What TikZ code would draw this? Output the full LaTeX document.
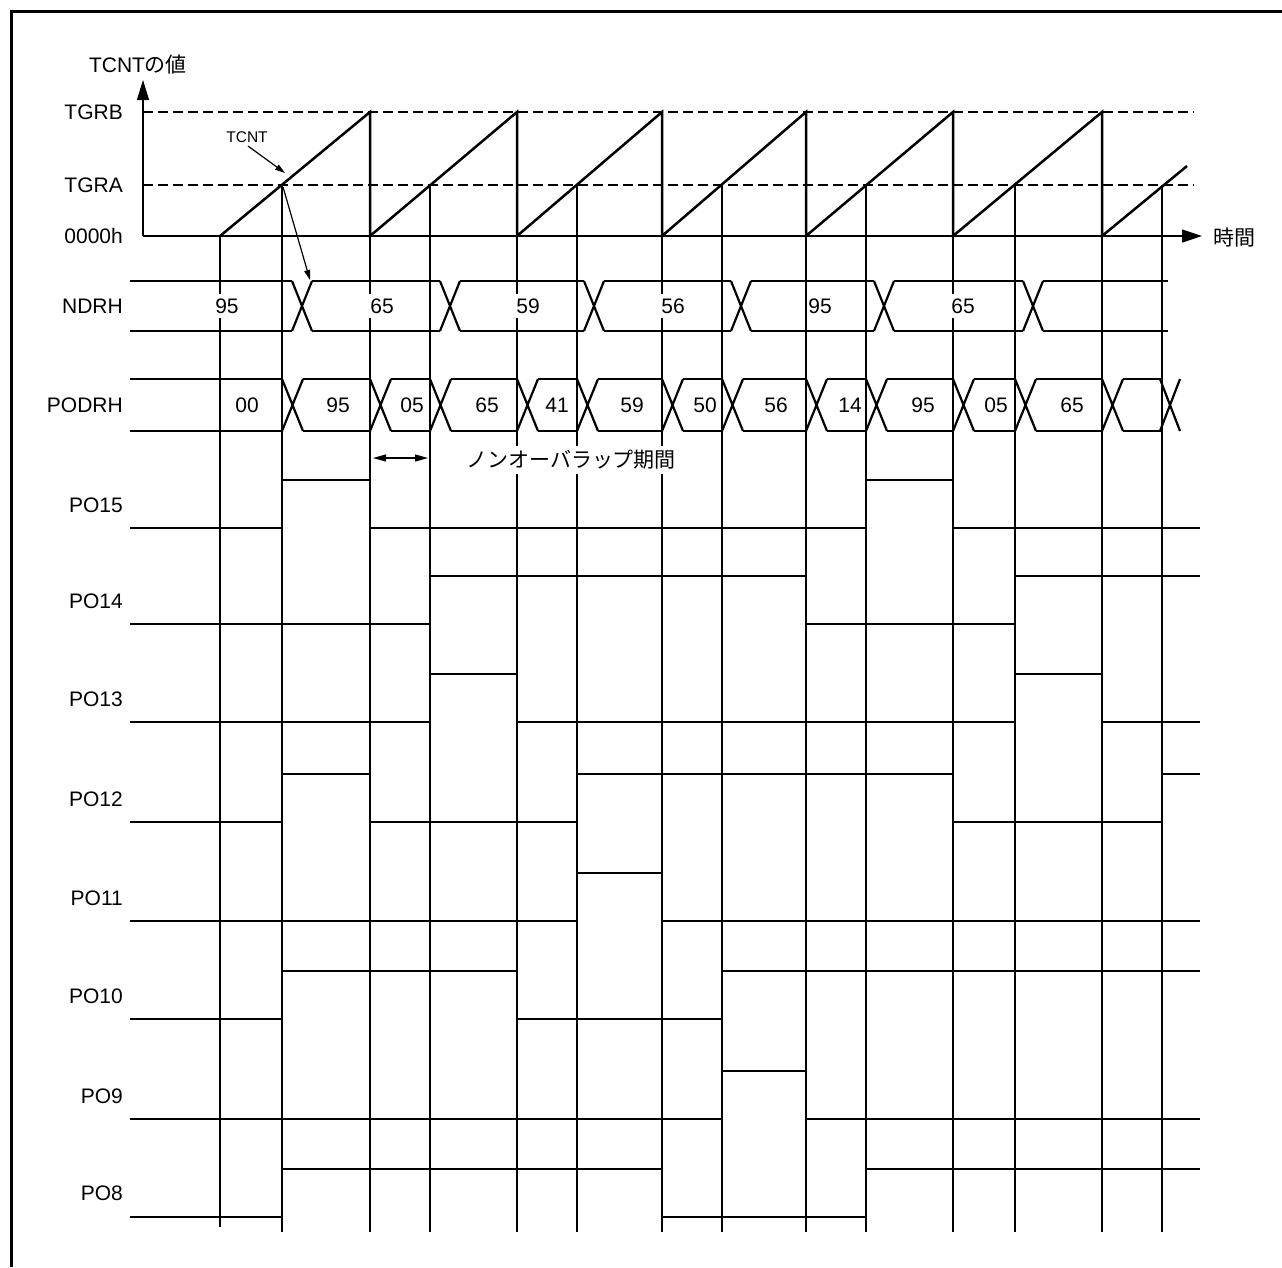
\documentclass[tikz,border=0pt]{standalone}
\usepackage{fontspec}
\setmainfont{Liberation Sans}
\newfontfamily\jp{Noto Sans CJK JP}
\usetikzlibrary{arrows.meta}
\tikzset{
  thinln/.style={line width=1.2pt},
  thickln/.style={line width=2.5pt},
  busln/.style={line width=2.2pt, line cap=butt},
  sig/.style={line width=2.5pt, line join=miter},
  dashln/.style={line width=2.5pt, dash pattern=on 10pt off 5pt},
  lbl/.style={anchor=east, inner sep=0pt},
  val/.style={fill=white, inner xsep=1pt, inner ysep=5pt},
  txt/.style={font=\fontsize{21}{24}\selectfont},
}
\begin{document}
\begin{tikzpicture}[x=1pt,y=-1pt, every node/.style={txt}]
\useasboundingbox (0,0) rectangle (1282,1267);
% frame (top and left)
\draw[line width=3pt] (11,1267) -- (11,11) -- (1282,11);

% vertical guide lines
\draw[thinln] (220,236) -- (220,1227);
\foreach \x in {282,430,577,722,866,1015,1162} { \draw[thinln] (\x,185) -- (\x,1232); }
\foreach \x in {370,517,662,806,953,1102} { \draw[thinln] (\x,236) -- (\x,1232); }

% axes
\draw[thinln, -{Triangle[length=20pt,width=12pt]}] (143,236) -- (143,80);
\draw[thinln, -{Triangle[length=20pt,width=13pt]}] (143,236) -- (1202,236);
% dashed levels
\draw[dashln] (143,112) -- (1194,112);
\draw[dashln] (143,185) -- (1194,185);
% sawtooth
\draw[thickln, line join=miter] (220,236) -- (370,112) -- (370,236) -- (517,112) -- (517,236) -- (662,112) -- (662,236) -- (806,112) -- (806,236) -- (953,112) -- (953,236) -- (1102,112) -- (1102,236) -- (1187,166);

% axis labels
\node[inner sep=0pt] (ylab) at (138,65) {TCNT{\jp の値}};
\node[lbl] (tgrb) at (123,112) {TGRB};
\node[lbl] (tgra) at (123,185) {TGRA};
\node[lbl] (zero) at (123,236) {0000h};
\node[anchor=west, inner sep=0pt] (time) at (1213,238) {\jp 時間};
\node[inner sep=0pt, font=\fontsize{15.5}{18}\selectfont] (tcnt) at (247,137) {TCNT};
\coordinate (tcntA) at (248,146);
\coordinate (tcntB) at (285,173);
\draw[thinln, -{Triangle[length=10pt,width=6pt]}] (tcntA) -- (tcntB);
\coordinate (crossA) at (283,187);
\coordinate (ndrhT) at (310,280);
\draw[thinln, -{Triangle[length=10pt,width=6pt]}] (crossA) -- (ndrhT);

% NDRH bus
\node[lbl] (ndrh) at (123,306) {NDRH};
\foreach \s/\e in {130/292, 312/440, 460/584, 604/731, 751/874, 894/1023, 1043/1168} {
  \draw[busln] (\s,281) -- (\e,281) (\s,331) -- (\e,331);
}
\foreach \a in {292,440,584,731,874,1023} {
  \draw[busln] (\a,281) -- (\a+20,331) (\a,331) -- (\a+20,281);
}
\foreach \x/\v in {227/95, 382/65, 528/59, 673/56, 820/95, 963/65} {
  \node[val] at (\x,306) {\v};
}

% PODRH bus
\node[lbl] (podrh) at (123,405) {PODRH};
\foreach \s/\e in {130/282, 303/370, 391/430, 451/517, 538/577, 598/662, 683/722, 743/806, 827/866, 887/953, 974/1015, 1036/1102, 1123/1162} {
  \draw[busln] (\s,379) -- (\e,379) (\s,431) -- (\e,431);
}
\foreach \a in {282,370,430,517,577,662,722,806,866,953,1015,1102} {
  \draw[busln] (\a,379) -- (\a+21,431) (\a,431) -- (\a+21,379);
}
\draw[busln] (1160,379) -- (1180,431) (1160,431) -- (1180,379);
\foreach \x/\v in {247/00, 338/95, 412/05, 487/65, 557/41, 632/59, 705/50, 776/56, 850/14, 923/95, 996/05, 1072/65} {
  \node[inner sep=0pt] at (\x,405) {\v};
}

% non-overlap period
\coordinate (noA) at (373,458);
\coordinate (noB) at (428,458);
\draw[thinln, {Triangle[length=13pt,width=7pt]}-{Triangle[length=13pt,width=7pt]}] (noA) -- (noB);
\node[anchor=west, fill=white, inner xsep=0pt, inner ysep=4pt] (nolab) at (466,460) {\jp ノンオーバラップ期間};

% output signals
\node[lbl] (p15) at (123,505) {PO15};
\draw[sig] (130,528) -- (282,528) -- (282,480) -- (370,480) -- (370,528) -- (866,528) -- (866,480) -- (953,480) -- (953,528) -- (1200,528);
\node[lbl] (p14) at (123,601) {PO14};
\draw[sig] (130,624) -- (430,624) -- (430,576) -- (806,576) -- (806,624) -- (1015,624) -- (1015,576) -- (1200,576);
\node[lbl] (p13) at (123,699) {PO13};
\draw[sig] (130,722) -- (430,722) -- (430,674) -- (517,674) -- (517,722) -- (1015,722) -- (1015,674) -- (1102,674) -- (1102,722) -- (1200,722);
\node[lbl] (p12) at (123,799) {PO12};
\draw[sig] (130,822) -- (282,822) -- (282,774) -- (370,774) -- (370,822) -- (577,822) -- (577,774) -- (953,774) -- (953,822) -- (1162,822) -- (1162,774) -- (1200,774);
\node[lbl] (p11) at (123,898) {PO11};
\draw[sig] (130,921) -- (577,921) -- (577,873) -- (662,873) -- (662,921) -- (1200,921);
\node[lbl] (p10) at (123,996) {PO10};
\draw[sig] (130,1019) -- (282,1019) -- (282,971) -- (517,971) -- (517,1019) -- (722,1019) -- (722,971) -- (1200,971);
\node[lbl] (p9) at (123,1096) {PO9};
\draw[sig] (130,1119) -- (722,1119) -- (722,1071) -- (806,1071) -- (806,1119) -- (1200,1119);
\node[lbl] (p8) at (123,1193) {PO8};
\draw[sig] (130,1217) -- (282,1217) -- (282,1169) -- (662,1169) -- (662,1217) -- (866,1217) -- (866,1169) -- (1200,1169);
\end{tikzpicture}
\end{document}
